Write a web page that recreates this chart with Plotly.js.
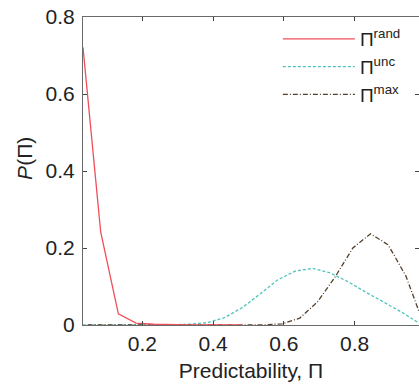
<!DOCTYPE html>
<html>
<head>
<meta charset="utf-8">
<script src="https://cdn.plot.ly/plotly-3.0.1.min.js"></script>
<style>
  html, body { margin: 0; padding: 0; background: #fff; }
  #chart { width: 419px; height: 389px; }
</style>
</head>
<body>
<div id="chart"></div>
<script>
// Distributions of predictability: random, unconditional (temporal-uncorrelated) and maximum.
const xRand = [0.032, 0.082, 0.132, 0.182, 0.232, 0.282, 0.332, 0.382, 0.432, 0.482];
const pRand = [0.721, 0.242, 0.029, 0.005, 0.002, 0.0005, 0, 0, 0, 0];

const xUnc = [0.032, 0.082, 0.132, 0.182, 0.232, 0.282, 0.332, 0.382, 0.432, 0.482,
              0.532, 0.582, 0.632, 0.682, 0.732, 0.782, 0.832, 0.882, 0.932, 0.982];
const pUnc = [0, 0, 0, 0, 0, 0.0005, 0.002, 0.006, 0.019, 0.045,
              0.080, 0.117, 0.140, 0.147, 0.135, 0.112, 0.085, 0.060, 0.034, 0.005];

const xMax = [0.045, 0.095, 0.145, 0.195, 0.245, 0.295, 0.345, 0.395, 0.445, 0.495,
              0.545, 0.595, 0.645, 0.695, 0.745, 0.795, 0.845, 0.895, 0.945, 0.995];
const pMax = [0, 0, 0, 0, 0, 0, 0, 0, 0, 0,
              0.0005, 0.003, 0.018, 0.060, 0.125, 0.200, 0.237, 0.208, 0.127, 0.003];

const xTicks = [0.2, 0.4, 0.6, 0.8];
const xTickText = ['0.2', '0.4', '0.6', '0.8'];
const yTicks = [0, 0.2, 0.4, 0.6, 0.8];
const yTickText = ['0', '0.2', '0.4', '0.6', '0.8'];

const seriesNames = ['\u03A0<sup>rand</sup>', '\u03A0<sup>unc</sup>', '\u03A0<sup>max</sup>'];

const FONT = 'Liberation Sans, Arial, sans-serif';

const traces = [
  { x: xUnc, y: pUnc, name: seriesNames[1], legendrank: 2, mode: 'lines',
    line: { color: '#4fc4b9', width: 1.3, dash: '3px,2px' } },
  { x: xMax, y: pMax, name: seriesNames[2], legendrank: 3, mode: 'lines',
    line: { color: '#54412c', width: 1.3, dash: '5px,2px,1px,2px' } },
  { x: xRand, y: pRand, name: seriesNames[0], legendrank: 1, mode: 'lines',
    line: { color: '#ef4f5a', width: 1.3 } }
];

const axisCommon = {
  showgrid: false, zeroline: false,
  showline: true, linecolor: '#6a6a6a', linewidth: 1,
  mirror: 'ticks', ticks: 'inside', ticklen: 4, tickwidth: 1, tickcolor: '#444',
  tickfont: { family: FONT, size: 21, color: '#222' }
};

const layout = {
  width: 419, height: 389,
  margin: { l: 83, r: 0, t: 17, b: 64 },
  paper_bgcolor: '#fff', plot_bgcolor: '#fff',
  showlegend: true,
  legend: {
    x: 0.58, y: 0.99, xanchor: 'left', yanchor: 'top',
    bgcolor: 'rgba(0,0,0,0)', borderwidth: 0,
    font: { family: FONT, size: 19, color: '#222' },
    itemwidth: 72, tracegroupgap: 0
  },
  xaxis: Object.assign({}, axisCommon, {
    range: [0.032, 0.982],
    tickvals: xTicks, ticktext: xTickText,
    title: { text: 'Predictability, \u03A0', font: { family: FONT, size: 21, color: '#222' }, standoff: 9 }
  }),
  yaxis: Object.assign({}, axisCommon, {
    range: [0, 0.8],
    tickvals: yTicks, ticktext: yTickText,
    ticklabelstandoff: 3
  }),
  annotations: [{
    xref: 'paper', yref: 'paper', x: -0.175, y: 0.54,
    xanchor: 'center', yanchor: 'middle',
    text: '<i>P</i>(\u03A0)', textangle: -90, showarrow: false,
    font: { family: FONT, size: 21, color: '#222' }
  }]
};

Plotly.newPlot('chart', traces, layout, { staticPlot: true, displayModeBar: false });
</script>
</body>
</html>
